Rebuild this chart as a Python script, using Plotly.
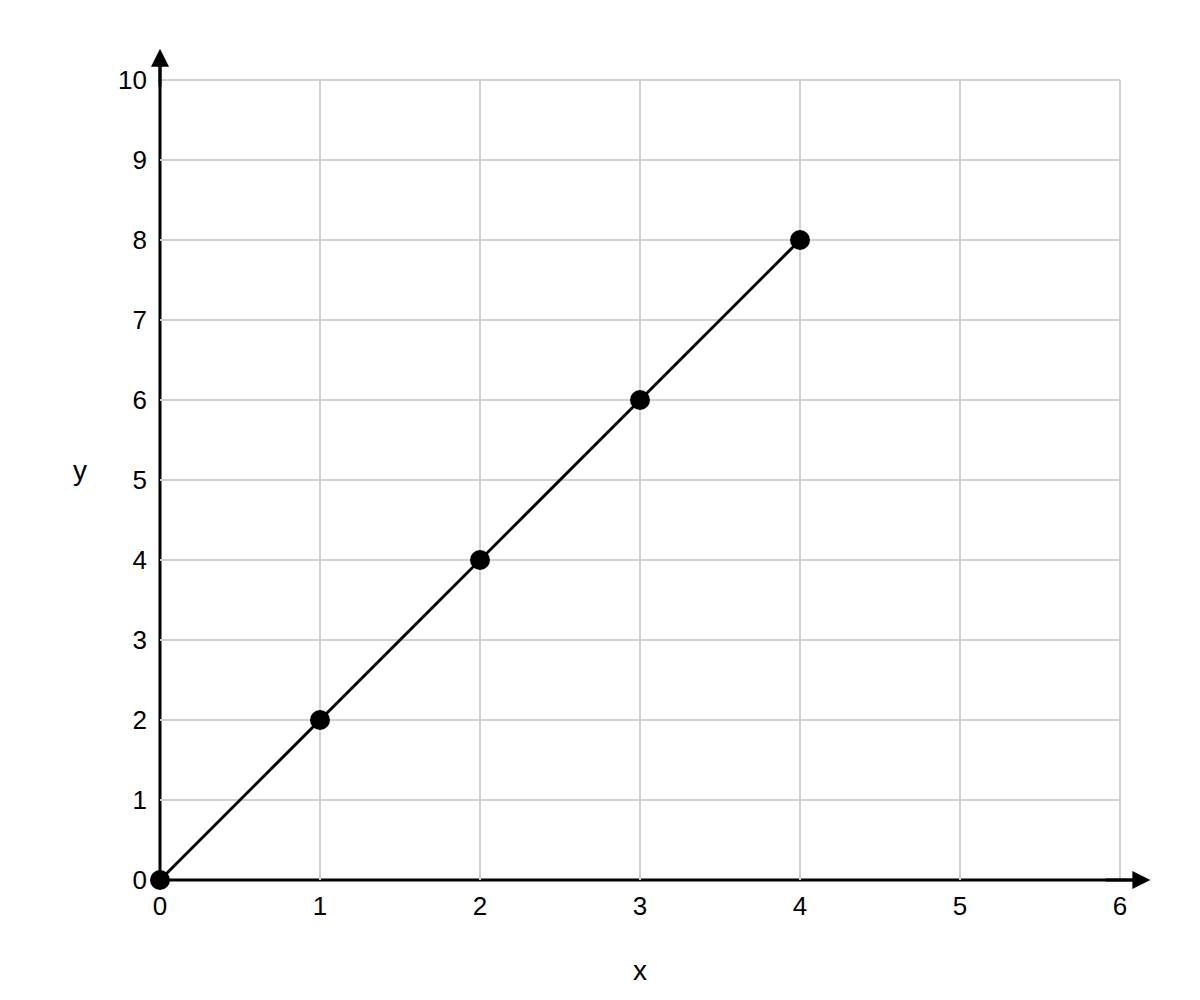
import plotly.graph_objects as go

x_values = [0, 1, 2, 3, 4]
y_values = [0, 2, 4, 6, 8]
x_ticks = [0, 1, 2, 3, 4, 5, 6]
y_ticks = [0, 1, 2, 3, 4, 5, 6, 7, 8, 9, 10]
x_title = "x"
y_title = "y"

FONT = "Liberation Sans, Arial, sans-serif"
GRID = "#d0d0d0"

fig = go.Figure()
fig.add_trace(go.Scatter(
    x=x_values, y=y_values, mode="lines+markers",
    line=dict(color="black", width=3),
    marker=dict(color="black", size=20),
    cliponaxis=False, showlegend=False,
))

axis_common = dict(
    showgrid=True, gridcolor=GRID, gridwidth=2,
    zeroline=False, showline=False, ticks="",
    tickfont=dict(family=FONT, size=26, color="black"),
)
fig.update_xaxes(range=[0, 6], tickvals=x_ticks, ticklabelstandoff=8, **axis_common)
fig.update_yaxes(range=[0, 10], tickvals=y_ticks, ticklabelstandoff=12, **axis_common)

# top and right border of the grid
fig.add_shape(type="line", xref="paper", yref="paper", x0=0, x1=1, y0=1, y1=1,
              line=dict(color=GRID, width=2), layer="below")
fig.add_shape(type="line", xref="paper", yref="paper", x0=1, x1=1, y0=0, y1=1,
              line=dict(color=GRID, width=2), layer="below")

# black axis lines (below the data markers)
fig.add_shape(type="line", xref="paper", yref="paper", x0=0, x1=1.02, y0=0, y1=0,
              line=dict(color="black", width=3), layer="below")
fig.add_shape(type="line", xref="paper", yref="paper", x0=0, x1=0, y0=0, y1=1.025,
              line=dict(color="black", width=3), layer="below")

# arrow heads at the axis ends
fig.add_annotation(x=6.19, y=0, ax=5.9, ay=0, xref="x", yref="y", axref="x", ayref="y",
                   text="", showarrow=True, arrowhead=2, arrowsize=1.2, arrowwidth=3,
                   arrowcolor="black", standoff=0)
fig.add_annotation(x=0, y=10.39, ax=0, ay=9.9, xref="x", yref="y", axref="x", ayref="y",
                   text="", showarrow=True, arrowhead=2, arrowsize=1.2, arrowwidth=3,
                   arrowcolor="black", standoff=0)

fig.add_annotation(x=0.5, y=-0.1125, xref="paper", yref="paper", text=x_title,
                   xanchor="center", yanchor="middle",
                   showarrow=False, font=dict(family=FONT, size=28, color="black"))
fig.add_annotation(x=-0.0833, y=0.5125, xref="paper", yref="paper", text=y_title,
                   xanchor="center", yanchor="middle",
                   showarrow=False, font=dict(family=FONT, size=28, color="black"))

fig.update_layout(
    width=1200, height=1000,
    margin=dict(l=152, r=88, t=72, b=128),
    plot_bgcolor="white", paper_bgcolor="white",
    font=dict(family=FONT, color="black"),
)
fig.write_html("out.html")
